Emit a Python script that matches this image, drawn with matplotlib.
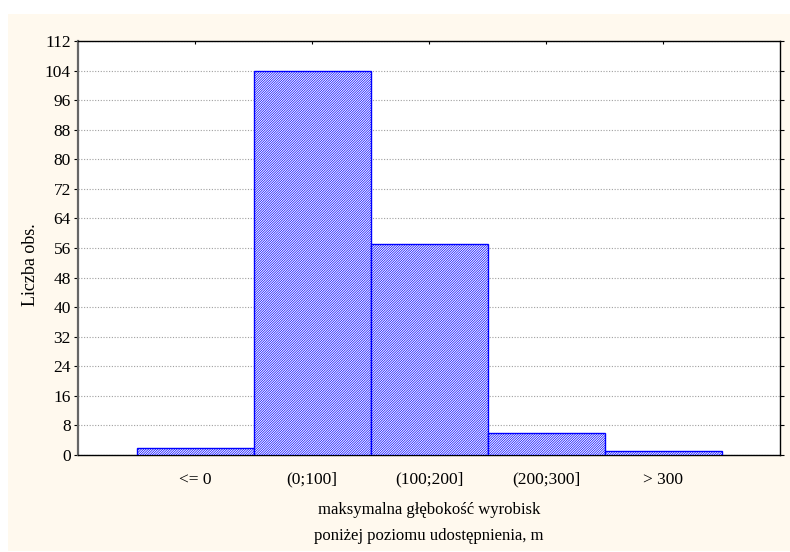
import matplotlib
matplotlib.use('Agg')
import matplotlib.pyplot as plt
from matplotlib.patches import Rectangle

# Histogram data
categories = ['<= 0', '(0;100]', '(100;200]', '(200;300]', '> 300']
counts = [2, 104, 57, 6, 1]
yticks = list(range(0, 113, 8))

plt.rcParams['font.family'] = ['Liberation Serif', 'DejaVu Serif']
plt.rcParams['hatch.linewidth'] = 0.5

fig = plt.figure(figsize=(7.9, 5.52), dpi=100, facecolor='white')
# cream panel behind the plot
fig.patches.append(Rectangle((8 / 790, 0.002), 1 - 8 / 790, 1 - 14 / 552 - 0.002,
                             transform=fig.transFigure, facecolor='#FFF9EE',
                             edgecolor='none', zorder=-10))

ax = fig.add_axes([78 / 790, 1 - 455 / 552, (780 - 78) / 790, (455 - 41) / 552])
ax.set_facecolor('white')

x = range(len(categories))
ax.bar(x, counts, width=1.0, color='white', edgecolor='#0000ff', hatch='/' * 14,
       linewidth=1.0, zorder=3)

ax.set_xlim(-1, 5)
ax.set_ylim(0, 112)
ax.set_yticks(yticks)
ax.set_xticks(list(x))
ax.set_xticklabels(categories)
ax.yaxis.grid(True, linestyle=(0, (1, 1.5)), color='#a0a0a0', linewidth=0.8, zorder=0)
ax.set_axisbelow(True)

ax.tick_params(axis='y', which='both', direction='out', length=3, labelsize=12.5,
               right=True, pad=2)
ax.tick_params(axis='x', which='both', direction='in', length=2, top=True,
               labelsize=12.5, pad=12)

for s in ['top', 'right', 'bottom']:
    ax.spines[s].set_color('black')
    ax.spines[s].set_linewidth(1.0)
ax.spines['left'].set_color('#666666')
ax.spines['left'].set_linewidth(1.6)

ax.set_ylabel('Liczba obs.', fontsize=13)
ax.yaxis.set_label_coords(-0.056, 0.46)
ax.set_xlabel('maksymalna głębokość wyrobisk\nponiżej poziomu udostępnienia, m',
              fontsize=12, labelpad=10, linespacing=1.85)

plt.savefig('out.png', dpi=100)
